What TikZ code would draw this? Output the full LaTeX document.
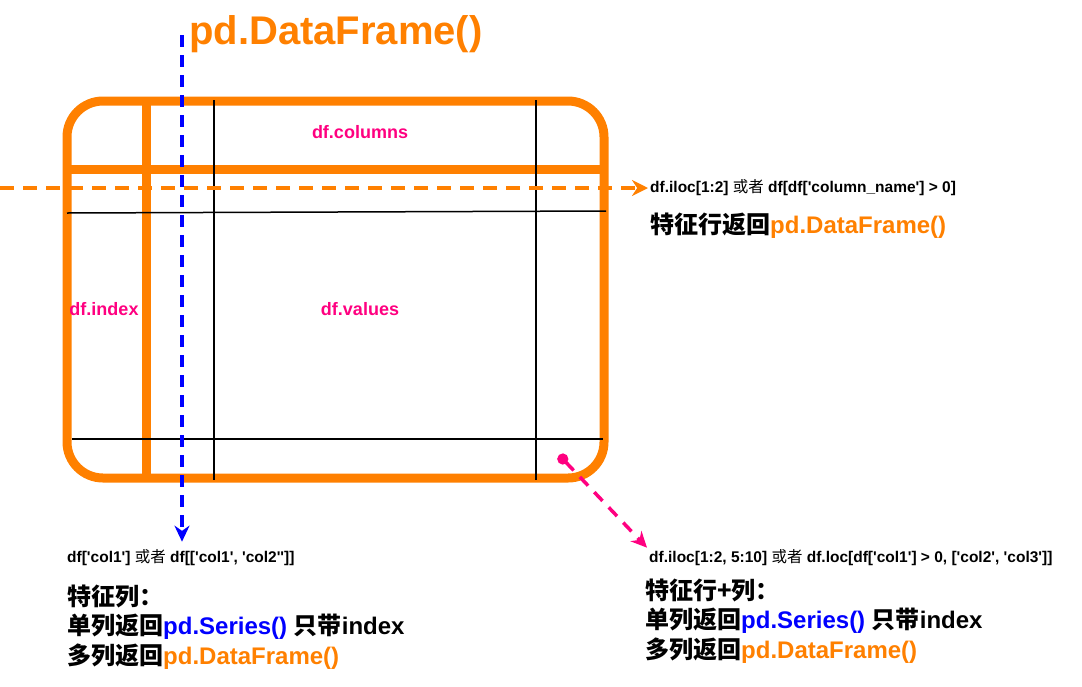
\documentclass[tikz,border=0pt]{standalone}
\usepackage{fontspec}
\setmainfont{Liberation Sans}[Ligatures=TeXOff]
\newfontfamily\cjk{Noto Sans CJK SC}
\usetikzlibrary{positioning, arrows.meta}
\definecolor{dforange}{HTML}{FF8000}
\definecolor{dfpink}{HTML}{FF0080}
\definecolor{dfblue}{HTML}{0000FF}
\newcommand{\zh}[1]{{\cjk #1}}
\newcommand{\zhor}{{\cjk\mdseries 或者}}
\newcommand{\odf}{\textcolor{dforange}{pd.DataFrame()}}
\newcommand{\bser}{\textcolor{dfblue}{pd.Series()}}
\tikzstyle{frame} = [draw=dforange, line width=9pt, rounded corners=36pt]
\tikzstyle{split} = [draw=dforange, line width=9pt]
\tikzstyle{grid} = [draw=black, line width=1.5pt]
\tikzstyle{part} = [text=dfpink, font=\fontsize{18}{21}\selectfont\bfseries]
\tikzstyle{code} = [font=\fontsize{15.5}{18}\selectfont\bfseries, inner sep=2pt]
\tikzstyle{note} = [font=\fontsize{24}{29.5}\selectfont\bfseries, align=left, inner sep=0pt]
\tikzstyle{rowpick} = [draw=dforange, line width=3.5pt, dash pattern=on 14pt off 9pt, -{Stealth[length=16pt,width=16pt]}]
\tikzstyle{colpick} = [draw=dfblue, line width=3.5pt, dash pattern=on 12pt off 8pt, -{Stealth[length=16pt,width=15pt]}]
\tikzstyle{cellpick} = [draw=dfpink, line width=3.5pt, dash pattern=on 12pt off 9pt, {Circle[length=11pt]}-{Stealth[length=16pt,width=15pt]}]

\begin{document}
\begin{tikzpicture}[x=1pt, y=-1pt]
        \useasboundingbox (0,0) rectangle (1082,686);
        % table outline
        \draw [frame] (67,101) rectangle (604,478);
        \draw [split] (146,101) -- (146,478);
        \draw [split] (67,169) -- (604,169);
        \draw [grid] (214,100) -- (214,480);
        \draw [grid] (536,100) -- (536,480);
        \draw [grid] (67,213) -- (606,211);
        \draw [grid] (72,439) -- (603,439);

        \node (title) [anchor=west, text=dforange, font=\fontsize{40}{44}\selectfont\bfseries, inner sep=0pt] at (189,34) {pd.DataFrame()};
        \node (columns) [part] at (360,132) {df.columns};
        \node (index) [part] at (104,309) {df.index};
        \node (values) [part] at (360,309) {df.values};

        \node (rowsel) [code, anchor=west] at (648,188) {df.iloc[1:2] \zhor{} df[df['column\_name'] > 0]};
        \node (rownote) [note, anchor=west] at (650,226) {\zh{特征行返回}\odf};
        \node (colsel) [code, anchor=west] at (65,558) {df['col1'] \zhor{} df[['col1', 'col2'']]};
        \node (colnote) [note, below=16pt of colsel.south west, anchor=north west, xshift=2pt] {\zh{特征列：}\\\zh{单列返回}\bser{} \zh{只带}index\\\zh{多列返回}\odf};
        \node (cellsel) [code, anchor=west] at (647,558) {df.iloc[1:2, 5:10] \zhor{} df.loc[df['col1'] > 0, ['col2', 'col3']]};
        \node (cellnote) [note, below=10pt of cellsel.south west, anchor=north west, xshift=-2pt] {\zh{特征行+列：}\\\zh{单列返回}\bser{} \zh{只带}index\\\zh{多列返回}\odf};

        \coordinate (rowstart) at (0,188);
        \coordinate (coltop) at (182,35);
        \coordinate (cellpt) at (559,455);
        \draw [rowpick] (rowstart) -- (rowsel.west);
        \draw [colpick, shorten >=6pt] (coltop) -- (coltop |- colsel.north);
        \draw [cellpick] (cellpt) -- (cellsel.north west);

        \end{tikzpicture}
\end{document}
